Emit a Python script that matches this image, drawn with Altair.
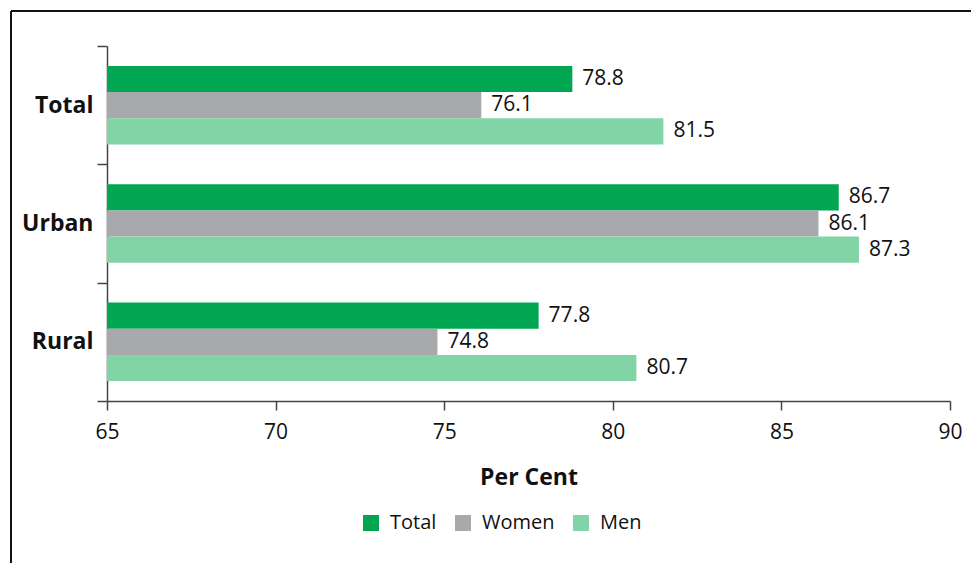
import altair as alt
import pandas as pd

groups = ["Total", "Urban", "Rural"]
series = ["Total", "Women", "Men"]
total_vals = [78.8, 86.7, 77.8]
women_vals = [76.1, 86.1, 74.8]
men_vals = [81.5, 87.3, 80.7]
colors = ["#00A651", "#A7A9AC", "#82D4A7"]
x_ticks = [65, 70, 75, 80, 85, 90]

rows = []
for i, g in enumerate(groups):
    for s, vals in zip(series, [total_vals, women_vals, men_vals]):
        rows.append({"group": g, "series": s, "value": vals[i]})
df = pd.DataFrame(rows)

FONT = "Open Sans"
W, H = 843, 355

y_enc = alt.Y("group:N", sort=groups,
              scale=alt.Scale(paddingInner=0, paddingOuter=0),
              axis=alt.Axis(title=None, tickBand="extent", labelFontWeight="bold",
                            labelFontSize=23, labelColor="#111111", labelPadding=4,
                            tickSize=10, tickColor="#444444", domainColor="#444444",
                            tickWidth=1.5, domainWidth=1.5))
yoff = alt.YOffset("series:N", sort=series,
                   scale=alt.Scale(paddingInner=0, paddingOuter=0.76))
x_enc = alt.X("value:Q",
              scale=alt.Scale(domain=[65, 90], nice=False, zero=False),
              axis=alt.Axis(title="Per Cent", values=x_ticks, titleFontSize=23,
                            titleFontWeight="bold", titleColor="#111111",
                            titlePadding=24, labelFontSize=21, labelColor="#111111",
                            labelPadding=11, labelFlush=False, tickSize=9, grid=False,
                            tickColor="#444444", domainColor="#444444",
                            tickWidth=1.5, domainWidth=1.5))

bars = alt.Chart(df).mark_bar(clip=True).encode(
    y=y_enc, yOffset=yoff, x=x_enc,
    x2=alt.datum(65),
    color=alt.Color("series:N", sort=series,
                    scale=alt.Scale(domain=series, range=colors),
                    legend=alt.Legend(title=None, orient="none", direction="horizontal",
                                      legendX=254, legendY=467, symbolType="square",
                                      symbolSize=256, symbolStrokeWidth=0,
                                      symbolOpacity=1, labelFontSize=20,
                                      labelColor="#111111", labelOffset=9,
                                      columnPadding=16)),
)

labels = alt.Chart(df).mark_text(align="left", baseline="middle", dx=10,
                                 fontSize=21, color="#111111", font=FONT).encode(
    y=alt.Y("group:N", sort=groups), yOffset=alt.YOffset("series:N", sort=series),
    x="value:Q", text=alt.Text("value:Q", format=".1f"),
)

frame_top = alt.Chart(df).mark_rule(color="#111111", strokeWidth=2).encode(
    x=alt.value(-96), x2=alt.value(900), y=alt.value(-35))
frame_left = alt.Chart(df).mark_rule(color="#111111", strokeWidth=2).encode(
    x=alt.value(-96), y=alt.value(-35), y2=alt.value(560))

chart = alt.layer(bars, labels, frame_top, frame_left).properties(
    width=W, height=H,
    autosize=alt.AutoSizeParams(type="none"),
    padding={"left": 107, "top": 46, "right": 21, "bottom": 162},
    background="white",
).configure(font=FONT, view=alt.ViewConfig(stroke=None))

chart.save("out.html", embed_options={"renderer": "svg", "actions": False})
